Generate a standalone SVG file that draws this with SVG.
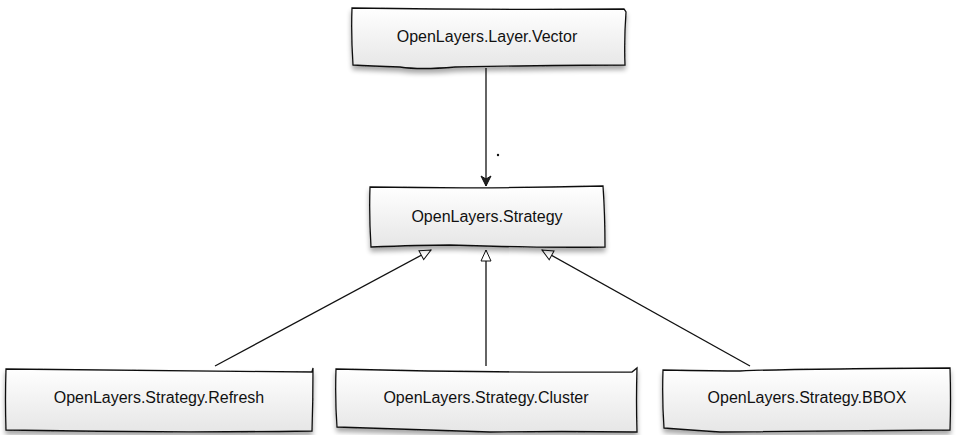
<svg xmlns="http://www.w3.org/2000/svg" width="957" height="435" viewBox="0 0 957 435">
<defs>
<linearGradient id="g" x1="0" y1="0" x2="0" y2="1">
<stop offset="0" stop-color="#ffffff"/>
<stop offset="1" stop-color="#e6e6e6"/>
</linearGradient>
<filter id="sh" x="-5%" y="-10%" width="110%" height="140%">
<feGaussianBlur in="SourceAlpha" stdDeviation="2.5"/>
<feOffset dx="0" dy="4"/>
<feComponentTransfer><feFuncA type="linear" slope="0.35"/></feComponentTransfer>
<feMerge><feMergeNode/><feMergeNode in="SourceGraphic"/></feMerge>
</filter>
<marker id="open" markerWidth="12" markerHeight="12" refX="11" refY="6" orient="auto" markerUnits="userSpaceOnUse">
<path d="M1,1 L11,6 L1,11 L4,6 Z" fill="#222" stroke="#111" stroke-width="1"/>
</marker>
<marker id="tri" markerWidth="14" markerHeight="12" refX="12" refY="6" orient="auto" markerUnits="userSpaceOnUse">
<path d="M1,1 L12,6 L1,11 Z" fill="#fff" stroke="#111" stroke-width="1"/>
</marker>
</defs>
<style>
.box{fill:url(#g);stroke:#111;stroke-width:1.3;filter:url(#sh)}
.t{font-family:"Liberation Sans",Arial,sans-serif;font-size:16px;fill:#111;text-anchor:middle}
.c{fill:none;stroke:#111;stroke-width:1.3}
</style>
<rect width="957" height="435" fill="#fff"/>
<g id="connectors">
<path class="c" d="M486,68 L486,186" marker-end="url(#open)"/>
<circle cx="498" cy="155" r="1.2" fill="#111"/>
<path class="c" d="M215,366 L431,250" marker-end="url(#tri)"/>
<path class="c" d="M486,366 L486,250" marker-end="url(#tri)"/>
<path class="c" d="M750,366 L542,250" marker-end="url(#tri)"/>
</g>
<g id="node-vector">
<path class="box" d="M352,8 Q490,10 624,9 L626,12 Q624,40 625,65 Q560,65 455,67 Q420,70 400,67 Q370,66 353,65 Q351,35 352,8 Z"/>
<text class="t" x="487" y="42">OpenLayers.Layer.Vector</text>
</g>
<g id="node-strategy">
<path class="box" d="M370,187 Q490,189 603,186 Q605,215 605,247 Q540,248 450,245 Q420,245 371,247 Q369,215 370,187 Z"/>
<text class="t" x="487" y="222">OpenLayers.Strategy</text>
</g>
<g id="node-refresh">
<path class="box" d="M6,369 Q160,371 312,372 L313,368 Q313,400 312,431 Q160,433 6,430 Q5,400 6,369 Z"/>
<text class="t" x="159" y="403">OpenLayers.Strategy.Refresh</text>
</g>
<g id="node-cluster">
<path class="box" d="M336,369 Q490,373 632,372 L637,368 Q636,400 637,432 Q560,431 490,432 Q420,430 337,427 Q335,400 336,369 Z"/>
<text class="t" x="486" y="403">OpenLayers.Strategy.Cluster</text>
</g>
<g id="node-bbox">
<path class="box" d="M663,370 Q720,371 740,371 Q780,369 950,368 Q951,400 950,430 Q820,431 720,432 Q690,430 664,428 Q662,400 663,370 Z"/>
<text class="t" x="807" y="403">OpenLayers.Strategy.BBOX</text>
</g>
</svg>
